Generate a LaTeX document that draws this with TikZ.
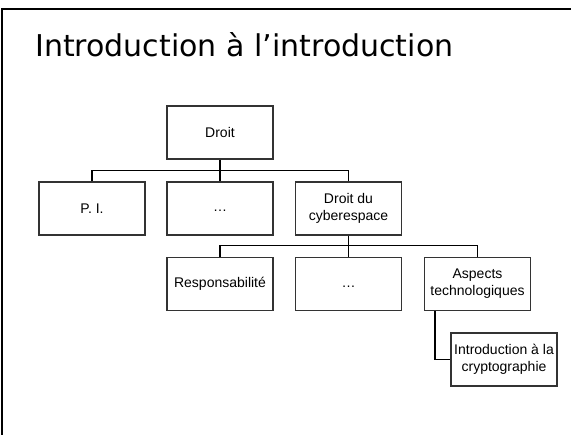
\documentclass[tikz,border=0pt]{standalone}
\usepackage{fontspec}
\setmainfont{Liberation Sans}
\newfontfamily\titlefont{DejaVu Sans}
\usetikzlibrary{calc}

\begin{document}
\begin{tikzpicture}[x=1pt, y=-1pt, font=\fontsize{14}{17}\selectfont,
  box/.style={draw=black!80, line width=1.1pt, minimum width=106pt, minimum height=53pt, inner sep=1pt, align=center},
  link/.style={line width=1.1pt}]
\useasboundingbox (0,0) rectangle (571,435);
\draw[line width=2pt] (2,435) -- (2,9) -- (571,9);
\node[anchor=base west, inner sep=0, font=\titlefont\fontsize{30}{36}\selectfont] (title) at (35,57) {Introduction à l’introduction};
% level 1
\node[box] (droit) at (220,132.5) {Droit};
% level 2
\node[box] (pi) at (92,208.5) {P. I.};
\node[box] (dotsA) at (220,208.5) {\vphantom{Dg}…};
\node[box] (cyber) at (348.5,208.5) {Droit du\\cyberespace};
% level 3
\node[box] (resp) at (220,284) {Responsabilité};
\node[box] (dotsB) at (348.5,284) {\vphantom{Dg}…};
\node[box] (aspects) at (477.5,284) {Aspects\\technologiques};
\node[box] (crypto) at (504,359.5) {Introduction à la\\cryptographie};
% connectors
\draw[link] (droit.south) -- (dotsA.north);
\draw[link] (pi.north) -- ++(0,-11) -| (cyber.north);
\draw[link] (cyber.south) -- (dotsB.north);
\draw[link] (resp.north) -- ++(0,-11) -| (aspects.north);
\draw[link] ($(aspects.south west)+(11,0)$) |- (crypto.west);
\end{tikzpicture}
\end{document}
